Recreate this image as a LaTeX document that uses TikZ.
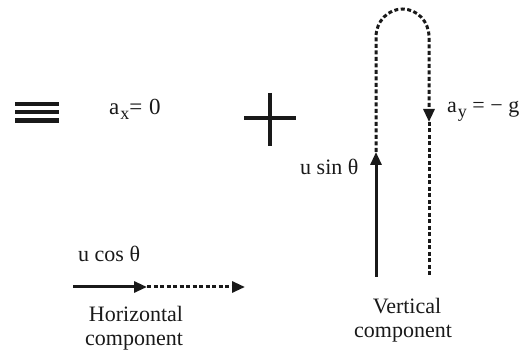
\documentclass[tikz,border=0pt]{standalone}
\usepackage{fontspec}
\setmainfont{Liberation Serif}
\usetikzlibrary{arrows.meta}
\newcommand{\mysub}[1]{\kern1pt\raisebox{-4.5pt}{\fontsize{18}{18}\selectfont #1}}
\begin{document}
\begin{tikzpicture}[x=1pt,y=-1pt,
  lbl/.style={font=\fontsize{22}{24}\selectfont, inner sep=0pt, text=black!90},
  tip/.style={-{Triangle[length=13pt,width=11pt]}},
  solidvec/.style={line width=3pt, black!90},
  dashvec/.style={line width=3pt, black!90, dash pattern=on 4pt off 2.5pt},
  bar/.style={line width=4.3pt, black!90},
  plusbar/.style={line width=3.5pt, black!90}]
\useasboundingbox (0,0) rectangle (528,352);
% triple bar
\draw[bar] (15,104) -- (59,104);
\draw[bar] (15,112) -- (59,112);
\draw[bar] (15,120.5) -- (59,120.5);
% plus
\draw[plusbar] (244,118) -- (296,118);
\draw[plusbar] (270,93) -- (270,146);
% texts
\node[lbl, font=\fontsize{23}{24}\selectfont, anchor=base west] (ax) at (109,115) {a\mysub{x}=\kern1pt\ 0};
\node[lbl, anchor=base west] (ay) at (447,113) {a\mysub{y} = − g};
\node[lbl, anchor=base west] (usin) at (300,175) {u sin θ};
\node[lbl, anchor=base west] (ucos) at (78,262) {u cos θ};
\node[lbl, anchor=base] (hl1) at (136,322) {Horizontal};
\node[lbl, anchor=base] (hl2) at (134,346) {component};
\node[lbl, anchor=base] (vl1) at (407,313.5) {Vertical};
\node[lbl, anchor=base] (vl2) at (403,338) {component};
% horizontal component
\coordinate (h0) at (73,287);
\coordinate (h1) at (147,287);
\coordinate (h2) at (245,287);
\draw[dashvec, tip] (h1) -- (h2);
\draw[solidvec, tip] (h0) -- (h1);
% vertical component
\coordinate (v0) at (376,277);
\coordinate (v1) at (376,152);
\coordinate (vt) at (376,37);
\coordinate (w1) at (429,122);
\coordinate (w2) at (429,277);
\draw[dashvec, tip] (v1) -- (vt) arc[start angle=180, end angle=0, x radius=26.5pt, y radius=28pt] -- (w1);
\draw[dashvec] (w1) -- (w2);
\draw[solidvec, tip] (v0) -- (v1);
\end{tikzpicture}
\end{document}
